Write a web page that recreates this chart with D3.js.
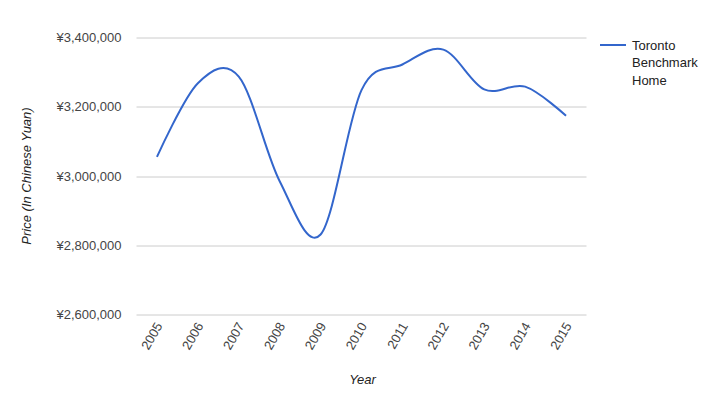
<!DOCTYPE html>
<html>
<head>
<meta charset="utf-8">
<script src="https://cdn.jsdelivr.net/npm/d3@7"></script>
<style>
    body { margin: 0; background: #fff; }
    svg { font-family: Arial, "Liberation Sans", sans-serif; }
    .grid line { stroke: #cccccc; }
    .axis text { fill: #444444; font-size: 13px; }
</style>
</head>
<body>
<svg width="721" height="399"></svg>
<script>
    var years = ["2005", "2006", "2007", "2008", "2009", "2010", "2011", "2012", "2013", "2014", "2015"];
    var prices = [3055000, 3268000, 3287000, 2985000, 2831000, 3248000, 3322000, 3365000, 3250000, 3258000, 3174000];
    var yTicks = [2600000, 2800000, 3000000, 3200000, 3400000];
    var seriesName = ["Toronto", "Benchmark", "Home"];

    var margin = {
            top: 37.5,
            left: 136.5
        },
        width = 450,
        height = 277;

    var svg = d3.select("svg");

    var x = d3.scaleBand().domain(years).range([0, width]),
        y = d3.scaleLinear().domain([2600000, 3400000]).range([height, 0]);

    var g = svg.append("g")
        .attr("transform", "translate(" + margin.left + "," + margin.top + ")");

    // gridlines + y labels
    var fmt = function(d) { return "¥" + d3.format(",")(d); };

    g.append("g")
        .attr("class", "grid")
        .selectAll("line")
        .data(yTicks)
        .enter().append("line")
        .attr("x1", 0)
        .attr("x2", width)
        .attr("y1", function(d) { return Math.round(y(d)) + 0.5; })
        .attr("y2", function(d) { return Math.round(y(d)) + 0.5; });

    g.append("g")
        .attr("class", "axis axis--y")
        .selectAll("text")
        .data(yTicks)
        .enter().append("text")
        .attr("x", -15)
        .attr("y", function(d) { return y(d); })
        .attr("dy", "0.35em")
        .attr("text-anchor", "end")
        .text(fmt);

    // x labels, slanted
    g.append("g")
        .attr("class", "axis axis--x")
        .selectAll("text")
        .data(years)
        .enter().append("text")
        .attr("text-anchor", "end")
        .attr("transform", function(d) {
            return "translate(" + (x(d) + x.bandwidth() / 2 + 2) + "," + (height + 9) + ") rotate(-60)";
        })
        .attr("dy", "0.35em")
        .text(function(d) { return d; });

    // the line
    var line = d3.line()
        .x(function(d, i) { return x(years[i]) + x.bandwidth() / 2; })
        .y(function(d) { return y(d); })
        .curve(d3.curveCardinal.tension(0));

    g.append("path")
        .datum(prices)
        .attr("fill", "none")
        .attr("stroke", "#3366cc")
        .attr("stroke-width", 2)
        .attr("d", line);

    // axis titles
    svg.append("text")
        .attr("x", margin.left + width / 2 + 1)
        .attr("y", 384)
        .attr("text-anchor", "middle")
        .style("font-size", "13px")
        .style("font-style", "italic")
        .style("fill", "#222222")
        .text("Year");

    svg.append("text")
        .attr("transform", "translate(31," + (margin.top + height / 2) + ") rotate(-90)")
        .attr("text-anchor", "middle")
        .style("font-size", "13px")
        .style("font-style", "italic")
        .style("fill", "#222222")
        .text("Price (In Chinese Yuan)");

    // legend
    var legend = svg.append("g").attr("transform", "translate(600,45)");
    legend.append("line")
        .attr("x1", 0).attr("x2", 26)
        .attr("y1", 0).attr("y2", 0)
        .attr("stroke", "#3366cc")
        .attr("stroke-width", 2);
    legend.selectAll("text")
        .data(seriesName)
        .enter().append("text")
        .attr("x", 32)
        .attr("y", function(d, i) { return i * 17.5; })
        .attr("dy", "0.35em")
        .style("font-size", "13px")
        .style("fill", "#222222")
        .text(function(d) { return d; });
</script>
</body>
</html>
